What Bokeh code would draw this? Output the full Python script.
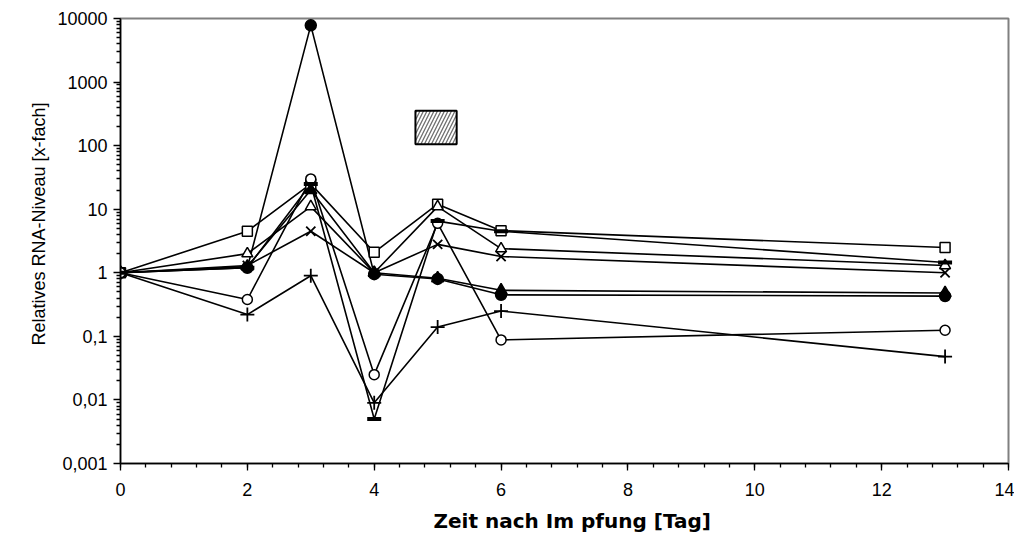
from bokeh.plotting import figure
from bokeh.models import FixedTicker, Range1d, Title
from bokeh.embed import file_html
from bokeh.resources import INLINE

# ---- data ----
days = [0, 2, 3, 4, 5, 6, 13]
open_square = [1, 4.5, 25, 2.1, 12, 4.6, 2.5]
open_triangle = [1, 2.0, 11, 1.0, 11, 2.4, 1.3]
x_cross = [1, 1.3, 4.5, 1.0, 2.8, 1.8, 1.0]
filled_circle = [1, 1.2, 7800, 0.95, 0.8, 0.45, 0.43]
filled_triangle = [1, 1.25, 20, 1.0, 0.82, 0.53, 0.48]
open_circle = [1, 0.38, 30, 0.025, 6.0, 0.088, 0.125]
plus = [1, 0.22, 0.9, 0.009, 0.14, 0.25, 0.048]
dash = [1, 1.2, 25, 0.005, 6.5, 4.5, 1.45]

y_ticks = [0.001, 0.01, 0.1, 1, 10, 100, 1000, 10000]
y_labels = ["0,001", "0,01", "0,1", "1", "10", "100", "1000", "10000"]
x_ticks = [0, 2, 4, 6, 8, 10, 12, 14]
x_title = "Zeit nach Im pfung [Tag]"
y_title = "Relatives RNA-Niveau [x-fach]"

p = figure(width=1014, height=546, output_backend="svg", toolbar_location=None,
           y_axis_type="log", x_range=Range1d(0, 14), y_range=Range1d(0.001, 10000),
           min_border_left=120, min_border_top=18, min_border_right=6, min_border_bottom=83)
p.background_fill_color = "white"
p.border_fill_color = "white"
p.outline_line_color = "#808080"
p.outline_line_width = 2
p.xgrid.visible = False
p.ygrid.visible = False

# hatched box (empty legend remnant)
p.quad(left=4.65, right=5.3, bottom=105, top=355, fill_color="white",
       hatch_pattern="right_diagonal_line", hatch_color="#707070", hatch_scale=7,
       hatch_weight=1.3, line_color="black", line_width=2)

series = [
    (open_square, "square", "white", 10, 1.5),
    (open_triangle, "triangle", "white", 11, 1.5),
    (x_cross, "x", "black", 13, 1.8),
    (filled_circle, "circle", "black", 11, 1.5),
    (filled_triangle, "triangle", "black", 12, 1.5),
    (open_circle, "circle", "white", 10, 1.5),
    (plus, "cross", "black", 14, 1.8),
    (dash, "dash", "black", 14, 4),
]
for vals, _, _, _, _ in series:
    p.line(days, vals, line_color="black", line_width=1.6)
for vals, marker, fill, size, lw in series:
    p.scatter(days, vals, marker=marker, size=size, fill_color=fill,
              line_color="black", line_width=lw)

font = "Liberation Sans"
p.yaxis.ticker = FixedTicker(ticks=y_ticks,
                             minor_ticks=[m * t for t in y_ticks[:-1] for m in range(2, 10)])
p.yaxis.major_label_overrides = {t: l for t, l in zip(y_ticks, y_labels)}
p.xaxis.ticker = FixedTicker(ticks=x_ticks, minor_ticks=[i * 0.4 for i in range(36)])

for ax in (p.xaxis[0], p.yaxis[0]):
    ax.axis_line_color = "black"
    ax.axis_line_width = 1.5
    ax.major_tick_line_color = "black"
    ax.minor_tick_line_color = "black"
    ax.major_tick_line_width = 1.3
    ax.minor_tick_line_width = 1.3
    ax.major_tick_in = 0
    ax.minor_tick_in = 0
    ax.major_tick_out = 7
    ax.minor_tick_out = 4
    ax.major_label_text_font = font
    ax.major_label_text_font_size = "18px"
    ax.major_label_text_color = "black"

p.xaxis.major_label_standoff = 12
p.yaxis.major_label_standoff = 6

p.add_layout(Title(text=x_title, text_font="DejaVu Sans", text_font_style="bold",
                   text_font_size="20px", text_color="black", align="left",
                   offset=313, standoff=17), "below")
p.add_layout(Title(text=y_title, text_font=font, text_font_style="normal",
                   text_font_size="18px", text_color="black", align="left",
                   offset=118, standoff=12), "left")

open("out.html", "w").write(file_html(p, INLINE))
